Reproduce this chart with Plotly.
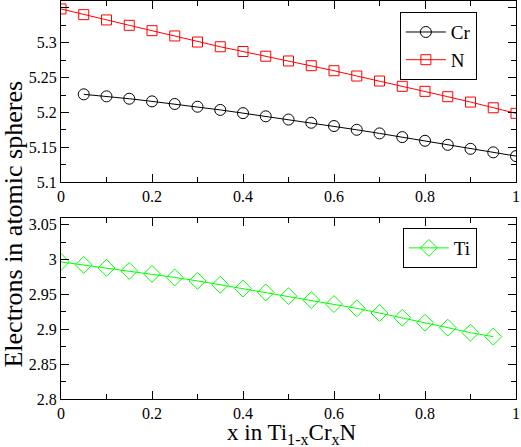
import plotly.graph_objects as go
from plotly.subplots import make_subplots

x_n = [0.0, 0.05, 0.1, 0.15, 0.2, 0.25, 0.3, 0.35, 0.4, 0.45, 0.5,
       0.55, 0.6, 0.65, 0.7, 0.75, 0.8, 0.85, 0.9, 0.95, 1.0]
n_val = [5.3486, 5.3404, 5.3328, 5.3251, 5.3174, 5.3098, 5.3011, 5.2943, 5.2875, 5.2807, 5.2739,
         5.2671, 5.2599, 5.2523, 5.2451, 5.2375, 5.2303, 5.2226, 5.2149, 5.2067, 5.1987]

x_cr = x_n[1:]
cr_val = [5.2260, 5.2231, 5.2197, 5.2159, 5.2121, 5.2082, 5.2036, 5.1990, 5.1944, 5.1898,
          5.1852, 5.1805, 5.1751, 5.1699, 5.1646, 5.1593, 5.1535, 5.1478, 5.1427, 5.1373]

x_ti = x_n[:-1]
ti_val = [2.9968, 2.9925, 2.9882, 2.9839, 2.9796, 2.9745, 2.9696, 2.9640, 2.9586, 2.9530,
          2.9476, 2.9420, 2.9363, 2.9301, 2.9234, 2.9167, 2.9095, 2.9024, 2.8952, 2.8895]

serif = "Liberation Serif, Times New Roman, serif"

fig = make_subplots(rows=2, cols=1, vertical_spacing=0.09)

fig.add_trace(go.Scatter(x=x_cr, y=cr_val, name="Cr", mode="lines+markers",
                         line=dict(color="black", width=1),
                         marker=dict(symbol="circle-open", size=11, color="black", line=dict(width=1)),
                         legend="legend"), row=1, col=1)
fig.add_trace(go.Scatter(x=x_n, y=n_val, name="N", mode="lines+markers",
                         line=dict(color="red", width=1),
                         marker=dict(symbol="square-open", size=10, color="red", line=dict(width=1)),
                         legend="legend"), row=1, col=1)
fig.add_trace(go.Scatter(x=x_ti, y=ti_val, name="Ti", mode="lines+markers",
                         line=dict(color="#00ff00", width=1),
                         marker=dict(symbol="diamond-open", size=13, color="#00ff00", line=dict(width=1)),
                         legend="legend2"), row=2, col=1)

axis_common = dict(showline=True, linecolor="black", linewidth=1, mirror="allticks",
                   ticks="inside", ticklen=8, tickcolor="black", showgrid=False, zeroline=False,
                   tickfont=dict(family=serif, size=16, color="black"))

for r in (1, 2):
    fig.update_xaxes(range=[0, 1], dtick=0.2, tickformat="~g",
                     minor=dict(dtick=0.1, ticks="inside", ticklen=5, tickcolor="black"),
                     row=r, col=1, **axis_common)

fig.update_yaxes(range=[5.1, 5.36], tickvals=[5.1, 5.15, 5.2, 5.25, 5.3, 5.35],
                 ticktext=["5.1", "5.15", "5.2", "5.25", "5.3", "5.35"],
                 minor=dict(dtick=0.025, tick0=5.1, ticks="inside", ticklen=5, tickcolor="black"),
                 row=1, col=1, **axis_common)
fig.update_yaxes(range=[2.8, 3.06], tickvals=[2.8, 2.85, 2.9, 2.95, 3.0, 3.05],
                 ticktext=["2.8", "2.85", "2.9", "2.95", "3", "3.05"],
                 minor=dict(dtick=0.025, tick0=2.8, ticks="inside", ticklen=5, tickcolor="black"),
                 row=2, col=1, **axis_common)

fig.update_layout(
    width=521, height=447,
    margin=dict(l=61, r=5, t=1, b=48),
    paper_bgcolor="white", plot_bgcolor="white",
    font=dict(family=serif, color="black"),
    legend=dict(x=0.914, y=0.972, xanchor="right", yanchor="top",
                bordercolor="black", borderwidth=1, bgcolor="white",
                font=dict(family=serif, size=19), itemwidth=40),
    legend2=dict(x=0.914, y=0.4296, xanchor="right", yanchor="top",
                 bordercolor="black", borderwidth=1, bgcolor="white",
                 font=dict(family=serif, size=19), itemwidth=40),
    annotations=[
        dict(text="Electrons in atomic spheres", x=-0.104, y=0.44, xref="paper", yref="paper",
             xanchor="center", yanchor="middle",
             textangle=-90, showarrow=False, font=dict(family=serif, size=26)),
        dict(text="x in Ti<sub>1-x</sub>Cr<sub>x</sub>N", x=0.508, y=-0.088, xref="paper", yref="paper",
             xanchor="center", yanchor="middle", showarrow=False, font=dict(family=serif, size=23)),
    ],
)
fig.update_yaxes(domain=[0.545, 1.0], row=1, col=1)
fig.update_yaxes(domain=[0.0, 0.455], row=2, col=1)

fig.write_html("out.html", config={"displayModeBar": False},
               post_script="document.body.style.margin='0';")
